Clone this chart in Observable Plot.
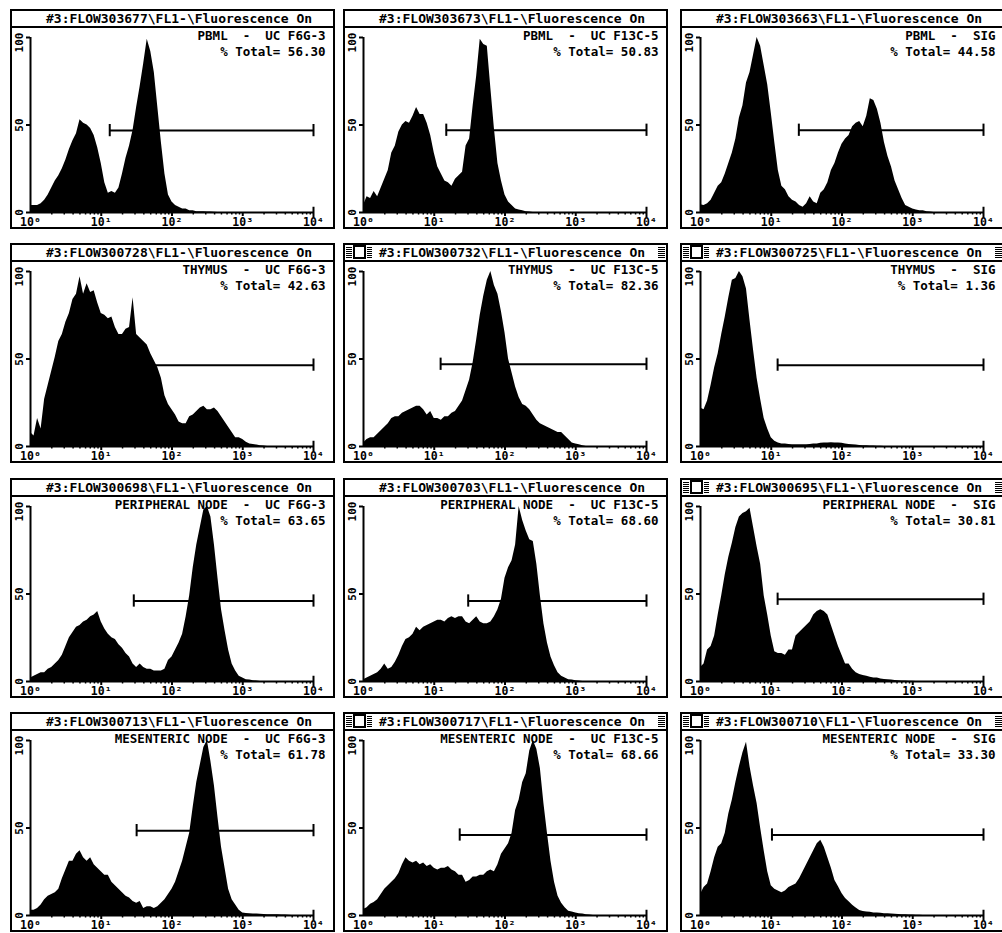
<!DOCTYPE html>
<html><head><meta charset="utf-8">
<script src="https://cdn.jsdelivr.net/npm/d3@7"></script>
<script src="https://cdn.jsdelivr.net/npm/@observablehq/plot@0.6"></script>
<style>
html,body{margin:0;padding:0;background:#fff;overflow:hidden;width:1002px;height:933px;}
#root{position:relative;width:1002px;height:933px;overflow:hidden;}
.panel{position:absolute;box-sizing:border-box;width:325px;height:220px;border:2px solid #000;background:#fff;}
.title{position:relative;height:15px;border-bottom:2px solid #000;font:bold 13px "DejaVu Sans Mono",monospace;line-height:15px;padding-left:34px;white-space:pre;color:#000;}
.panel svg{display:block;white-space:pre;overflow:visible;}
.hatch{position:absolute;top:2px;height:11px;background:repeating-linear-gradient(to bottom,#000 0 1px,#fff 1px 2px);}
.box{position:absolute;top:0px;left:8px;width:9px;height:10px;border:2px solid #000;background:#fff;}
</style></head><body><div id="root"></div>
<script>
// ---- histogram values (% of max), one per 0.05-decade channel from 10^0 ----
const pbmlF6G = [4,4,4,5,7,10,14,18,21,25, 30,36,41,45,53,51,50,48,44,37, 28,17,11,12,11,14,22,31,38,47, 60,72,85,99,92,80,60,40,22,10, 6,4,3,2,2,1,1,0.5,0.5,0.5, 0.3,0.3,0.2,0];
const pbmlF13C = [4,9,8,12,9,14,19,24,34,38, 46,50,52,51,55,60,56,56,51,44, 34,26,22,18,17,15,19,21,23,38, 42,61,78,99,96,95,71,48,28,18, 10,6,4,2,1.5,1,0.5,0.3,0];
const pbmlSIG = [4.5,4,5,7,11,15,17,22,28,34, 42,54,61,74,80,90,100,95,84,73, 57,40,24,15,13,9,7,6,4,3, 5,9,6,5,11,13,17,24,28,34, 39,42,44,49,51,52,49,55,65,64, 59,51,40,32,26,18,13,8,4,3, 2,1.5,1,1,0.5,0.3,0];
const thyF6G = [8,6,16,10,27,35,43,51,60,64, 71,76,84,87,97,87,93,88,89,82, 76,75,73,74,68,64,64,67,68,85, 64,62,60,58,53,49,45,39,29,24, 21,18,14,13,13,17,18,20,22,23, 21,21,22,20,17,14,11,8,5,5, 4,2.5,1.5,1.2,0.8,0.5,0.3,0];
const thyF13C = [2,4,5,5,7,9,11,13,16,17, 17,19,20,21,22,23,23,21,18,20, 16,16,15,17,17,19,20,23,26,32, 38,48,61,75,86,95,100,92,87,77, 65,50,42,34,28,24,23,21,18,15, 13,12,11,10,9,8,8,6,4,2, 1.5,1,0.5,0];
const thySIG = [22,21,26,35,45,53,64,74,85,95, 96,100,97,90,72,55,39,27,16,10, 5,3,2,1.5,1.5,1.2,1,1,1,1, 1,1.2,1.5,1.5,1.8,2,2,2.2,2,2, 1.8,1.5,1.2,1,0.8,0.6,0.5,0.4,0.3,0.3, 0.2,0.2,0];
const pnF6G = [2,3,4,5,5,7,8,10,12,15, 20,25,28,31,32,34,35,37,38,40, 34,30,27,25,24,21,19,16,14,10, 8,10,8,7,7,6,6,6,7,12, 14,18,22,27,37,49,65,78,88,98, 100,94,78,59,41,29,18,10,6,3, 2,1,0.8,0.5,0.3,0];
const pnF13C = [1,2,3,4,5,7,10,7,8,11, 15,20,24,25,27,31,29,31,32,33, 34,35,35,34,36,37,36,37,37,34, 33,35,37,34,33,33,34,37,41,47, 59,65,69,78,100,92,86,81,80,67, 49,33,22,14,9,5,3,2,1,0.8, 0.5,0.3,0];
const pnSIG = [8,10,18,20,26,38,49,61,71,79, 88,94,96,97,99,88,77,67,49,38, 26,17,16,16,15,18,18,26,28,30, 32,34,38,40,41,40,38,32,26,20, 15,10,10,7,5,4,3.5,3,2.5,2, 2,1.5,1.2,1,0.8,0.6,0.5,0.3,0.3,0.2, 0.2,0];
const mnF6G = [3,3,4,6,9,11,12,13,15,21, 26,31,31,35,37,33,31,33,29,27, 25,23,23,19,17,15,13,11,10,8, 7,8,4,5,5,4,5,7,9,12, 15,19,25,31,39,47,62,76,86,96, 100,88,74,56,39,27,15,9,6,3, 1.5,1.2,1,0.8,0.8,0.7,0.6,0.5,0.5,0.5, 0.5,0.3,0.3,0.2,0];
const mnF13C = [3.5,4.5,6.5,7.5,9,12,15,17,19,21, 24,29,33,31,30,31,29,30,28,29, 27,26,27,27,28,26,25,23,23,19, 20,22,22,23,23,25,26,25,29,35, 38,41,47,60,66,76,81,94,100,95, 84,64,47,31,19,11,7,4.5,2.5,2, 1.5,1,0.8,0.5,0.3,0];
const mnSIG = [12,16,18,25,33,39,41,47,58,66, 76,85,93,99,85,74,64,50,37,25, 17,15,14,13,14,16,17,18,21,25, 29,33,37,41,43,39,33,27,20,16.5, 12.6,9.7,7.8,5.8,4.3,2.9,2.3,2,1.8,1.5, 1.5,1.3,1,1,0.8,0.7,0.6,0.5,0.4,0.3, 0.3,0.2,0.2,0];

const histograms = [pbmlF6G, pbmlF13C, pbmlSIG, thyF6G, thyF13C, thySIG, pnF6G, pnF13C, pnSIG, mnF6G, mnF13C, mnSIG];
const fileIds = ["303677","303673","303663","300728","300732","300725","300698","300703","300695","300713","300717","300710"];
const tissues = ["PBML","PBML","PBML","THYMUS","THYMUS","THYMUS","PERIPHERAL NODE","PERIPHERAL NODE","PERIPHERAL NODE","MESENTERIC NODE","MESENTERIC NODE","MESENTERIC NODE"];
const reagents = ["UC F6G-3","UC F13C-5","SIG"];
const totals = ["56.30","50.83","44.58","42.63","82.36","1.36","63.65","68.60","30.81","61.78","68.66","33.30"];
const gateStartDecade = [1.12,1.17,1.39,1.2,1.09,1.09,1.46,1.48,1.09,1.5,1.36,1.01];
const gateLevel = [46.8,47,47,46.5,47,46.5,46,46,47,48.5,46,46];
const hasIcons = [false,false,false,false,true,true,false,false,true,false,true,true];
const xTicks = [1,10,100,1000,10000];
const xTickLabels = ["10\u2070","10\u00b9","10\u00b2","10\u00b3","10\u2074"];
const yTicks = [0,50,100];

const colLeft = [10,343,680];
const rowTop = [9,243,478,712];
const minorTicks = [];
for (const d of [1,10,100,1000]) for (let k = 2; k <= 9; k++) minorTicks.push(d*k);

const root = document.getElementById("root");
histograms.forEach((vals, p) => {
  const col = p % 3, row = Math.floor(p / 3);
  const panel = document.createElement("div");
  panel.className = "panel";
  panel.style.left = colLeft[col] + "px";
  panel.style.top = rowTop[row] + "px";
  const title = document.createElement("div");
  title.className = "title";
  title.textContent = "#3:FLOW" + fileIds[p] + "\\FL1-\\Fluorescence On";
  if (hasIcons[p]) {
    const h1 = document.createElement("div"); h1.className = "hatch"; h1.style.left = "1px"; h1.style.width = "6px";
    const bx = document.createElement("div"); bx.className = "box";
    const h2 = document.createElement("div"); h2.className = "hatch"; h2.style.left = "22px"; h2.style.width = "5px";
    const h3 = document.createElement("div"); h3.className = "hatch"; h3.style.right = "1px"; h3.style.width = "7px";
    title.append(h1, bx, h2, h3);
  }
  panel.appendChild(title);

  const rows = vals.map((v, i) => ({x: Math.pow(10, i * 0.05), y: v}));
  const gs = Math.pow(10, gateStartDecade[p]);
  const g = gateLevel[p];
  const label = tissues[p] + "  -  " + reagents[col];
  const total = "% Total= " + totals[p];
  const font = {fontFamily: "DejaVu Sans Mono, monospace", fontWeight: "bold", fill: "#000"};

  const chart = Plot.plot({
    width: 321, height: 199,
    marginLeft: 18, marginRight: 20, marginTop: 9, marginBottom: 15,
    x: {type: "log", domain: [1, 10000], axis: null},
    y: {domain: [0, 100], axis: null},
    style: {background: "white", color: "#000", fontFamily: "DejaVu Sans Mono, monospace", overflow: "visible"},
    marks: [
      Plot.areaY(rows, {x: "x", y: "y", fill: "#000", curve: "linear"}),
      Plot.ruleY([g], {x1: gs, x2: 10000, stroke: "#000", strokeWidth: 2}),
      Plot.ruleX([gs, 10000], {y1: g - 3.5, y2: g + 3.5, stroke: "#000", strokeWidth: 2}),
      Plot.axisX({ticks: minorTicks, tickSize: 2.5, tickFormat: () => "", label: null, strokeWidth: 1.5}),
      Plot.axisX({ticks: [10,100,1000], tickSize: 4, tickFormat: () => "", label: null, strokeWidth: 2}),
      Plot.ruleY([0], {x1: 1, x2: 10000, stroke: "#000", strokeWidth: 2}),
      Plot.ruleX([10000], {y1: -3, y2: 3, stroke: "#000", strokeWidth: 2}),
      Plot.ruleX([1], {y1: 0, y2: 100, stroke: "#000", strokeWidth: 2}),
      Plot.axisY({ticks: yTicks, tickSize: 4, tickFormat: () => "", label: null, strokeWidth: 2}),
      Plot.text(yTicks.filter(d => d < 100), {x: () => 1, y: d => d, text: d => String(d), rotate: -90, dx: -11, textAnchor: "middle", lineAnchor: "middle", fontSize: 11, ...font}),
      Plot.text(yTicks.filter(d => d === 100), {x: () => 1, y: d => d, text: d => String(d), rotate: -90, dx: -11, dy: 5, textAnchor: "middle", lineAnchor: "middle", fontSize: 11, ...font}),
      Plot.text(xTicks, {x: d => d, y: () => 0, text: (d, i) => xTickLabels[i], dy: 10, textAnchor: "middle", lineAnchor: "middle", fontSize: 11.5, ...font}),
      Plot.text([label], {frameAnchor: "top-right", textAnchor: "end", lineAnchor: "top", dx: 12, dy: -6, fontSize: 12.5, ...font}),
      Plot.text([total], {frameAnchor: "top-right", textAnchor: "end", lineAnchor: "top", dx: 12, dy: 10, fontSize: 12.5, ...font})
    ]
  });
  panel.appendChild(chart);
  root.appendChild(panel);
});
</script></body></html>
